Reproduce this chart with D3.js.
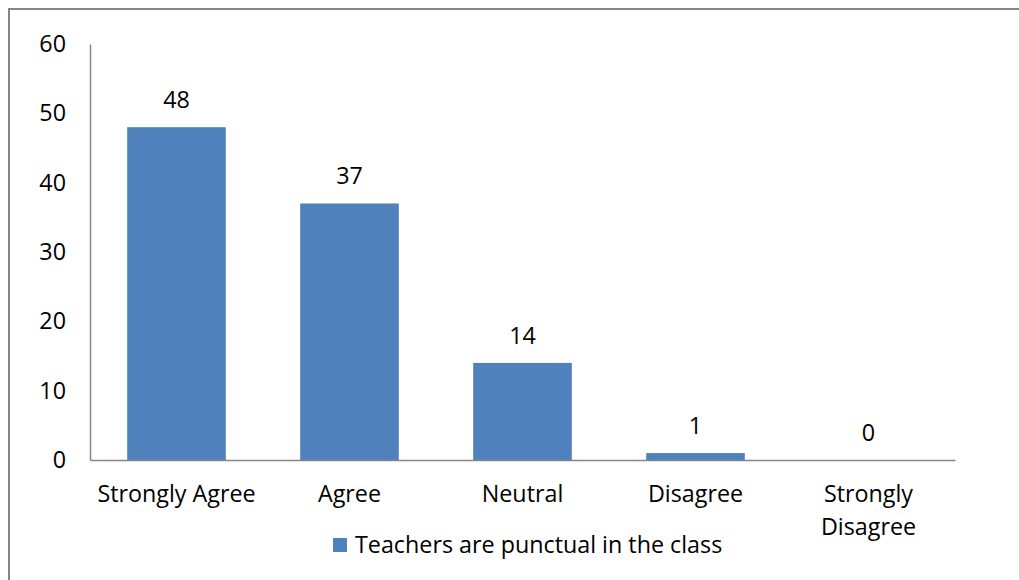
<!DOCTYPE html>
<html lang="en">
<head>
<meta charset="utf-8" />
<script src="https://d3js.org/d3.v7.min.js"></script>
<style>
  html, body { margin: 0; padding: 0; background: #fff; }
  svg { display: block; }
  text { font-family: "Open Sans", "Noto Sans", sans-serif; fill: #000; }
</style>
</head>
<body>
<svg id="canvas" width="1019" height="580"></svg>
<script>
// data
var categories = ["Strongly Agree", "Agree", "Neutral", "Disagree", "Strongly Disagree"];
var values = [48, 37, 14, 1, 0];
var yTicks = [0, 10, 20, 30, 40, 50, 60];
var seriesName = "Teachers are punctual in the class";

var svg = d3.select("#canvas");
var barColor = "#4f81bd";
var fontSize = 23.3;

// outer frame (runs off the right and bottom of the picture)
svg.append("rect")
  .attr("x", 9).attr("y", 9)
  .attr("width", 1030).attr("height", 600)
  .attr("fill", "none")
  .attr("stroke", "#868686")
  .attr("stroke-width", 2);

var x = d3.scaleBand()
  .domain(categories)
  .range([90, 955])
  .paddingInner(0.43)
  .paddingOuter(0.215);

var y = d3.scaleLinear()
  .domain([0, 60])
  .range([460, 44]);

// y axis
var yAxis = svg.append("g")
  .attr("transform", "translate(90,0)")
  .call(d3.axisLeft(y).tickValues(yTicks).tickSize(0).tickPadding(24));
yAxis.select(".domain").attr("stroke", "#868686").attr("stroke-width", 1.5);
yAxis.selectAll("text")
  .style("font-size", fontSize + "px")
  .style("font-family", "'Open Sans', sans-serif")
  .attr("fill", "#000");

// bars
svg.append("g").selectAll("rect")
  .data(values)
  .enter().append("rect")
  .attr("x", function(d, i){ return x(categories[i]); })
  .attr("y", function(d){ return y(d); })
  .attr("width", x.bandwidth())
  .attr("height", function(d){ return y(0) - y(d); })
  .attr("fill", barColor);

// x axis
var xAxis = svg.append("g")
  .attr("transform", "translate(0," + y(0) + ")")
  .call(d3.axisBottom(x).tickSize(0).tickFormat(""));
xAxis.select(".domain").attr("stroke", "#868686").attr("stroke-width", 1.5);

// category labels (wrap long ones)
svg.append("g").selectAll("text")
  .data(categories)
  .enter().append("text")
  .attr("text-anchor", "middle")
  .style("font-size", fontSize + "px")
  .each(function(d){
    var t = d3.select(this);
    var cx = x(d) + x.bandwidth() / 2;
    var lines = (d === "Strongly Disagree") ? ["Strongly", "Disagree"] : [d];
    lines.forEach(function(l, k){
      t.append("tspan").attr("x", cx).attr("y", 502 + k * 33).text(l);
    });
  });

// value labels
svg.append("g").selectAll("text")
  .data(values)
  .enter().append("text")
  .attr("text-anchor", "middle")
  .style("font-size", fontSize + "px")
  .attr("x", function(d, i){ return x(categories[i]) + x.bandwidth() / 2; })
  .attr("y", function(d){ return y(d) - 19; })
  .text(function(d){ return d; });

// legend
var legend = svg.append("g").attr("transform", "translate(333,538)");
legend.append("rect").attr("width", 14).attr("height", 14).attr("fill", barColor);
legend.append("text")
  .attr("x", 22).attr("y", 15)
  .style("font-size", fontSize + "px")
  .text(seriesName);
</script>
</body>
</html>
